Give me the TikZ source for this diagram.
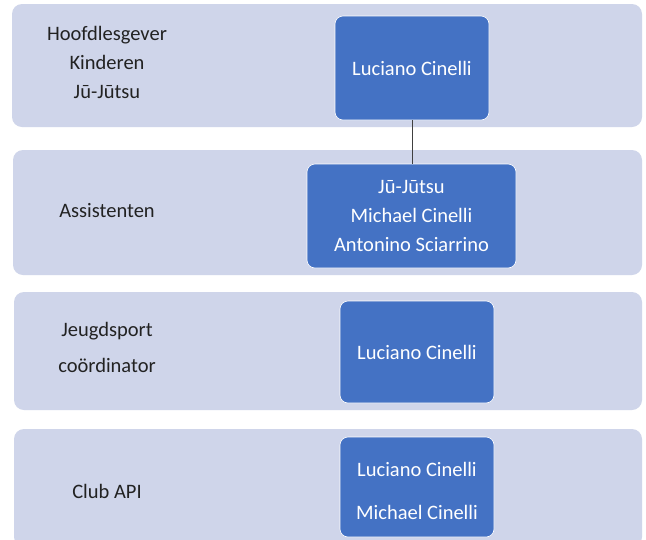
\documentclass[tikz,border=0pt]{standalone}
\usepackage{fontspec}
\setmainfont{Carlito}
\definecolor{bandfill}{HTML}{CFD5EA}
\definecolor{boxfill}{HTML}{4472C4}
\definecolor{labeltext}{HTML}{222222}
\definecolor{linecol}{HTML}{404040}
\begin{document}
\begin{tikzpicture}[x=1pt,y=-1pt,
  band/.style={fill=bandfill, draw=none, rounded corners=10pt, inner sep=0pt},
  person/.style={fill=boxfill, draw=white, line width=0.6pt, rounded corners=8pt, inner sep=0pt,
     text=white, align=center, font=\fontsize{20.5}{29}\selectfont},
  persontext/.style={text=white, align=center, inner sep=0pt, font=\fontsize{20.5}{29}\selectfont},
  rolelabel/.style={text=labeltext, align=center, inner sep=0pt, font=\fontsize{20.5}{29}\selectfont},
  conn/.style={draw=linecol, line width=0.8pt}]
\useasboundingbox (0,0) rectangle (646,539);
\clip (0,0) rectangle (646,539);
\fill[white] (0,0) rectangle (646,539);
% bands
\node[band, minimum width=630pt, minimum height=123pt] (band1) at (327,65.5) {};
\node[band, minimum width=629pt, minimum height=125pt] (band2) at (327.5,212.5) {};
\node[band, minimum width=628pt, minimum height=118pt] (band3) at (328,351) {};
\node[band, minimum width=628pt, minimum height=118pt] (band4) at (328,488) {};
% role labels
\node[rolelabel] (role1) at (107,62) {Hoofdlesgever\\Kinderen\\Jū-Jūtsu};
\node[rolelabel] (role2) at (107,211) {Assistenten};
\node[rolelabel] (role3) at (107,347) {Jeugdsport\\[7pt]coördinator};
\node[rolelabel] (role4) at (107,491) {Club API};
% person boxes
\node[person, minimum width=154pt, minimum height=104pt] (p1) at (412,68) {Luciano Cinelli};
\node[person, minimum width=209pt, minimum height=104pt] (p2) at (411.5,216) {Jū-Jūtsu\\Michael Cinelli\\Antonino Sciarrino};
\node[person, minimum width=154pt, minimum height=102pt] (p3) at (417,352) {Luciano Cinelli};
\node[person, minimum width=154pt, minimum height=100pt] (p4) at (417,487) {};
\node[persontext] (p4text) at (417,491) {Luciano Cinelli\\[14pt]Michael Cinelli};
% connector
\draw[conn] (p1.south) -- (p1.south |- p2.north);
\end{tikzpicture}
\end{document}
